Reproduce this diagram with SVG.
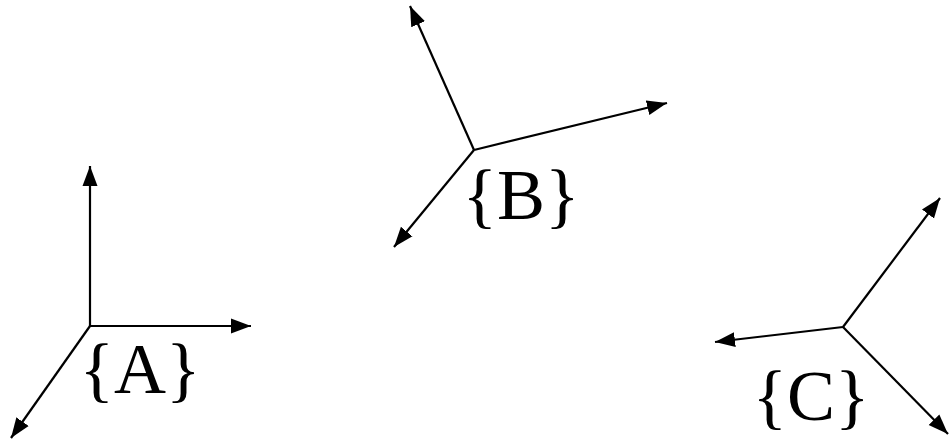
<svg xmlns="http://www.w3.org/2000/svg" width="949" height="440" viewBox="0 0 949 440">
<style>
.ax{stroke:#000;stroke-width:2.2;fill:none;marker-end:url(#ah)}
.lbl{font-family:"Liberation Serif","Times New Roman",serif;font-size:72px;fill:#000;text-anchor:middle}
</style>
<defs>
<marker id="ah" markerUnits="userSpaceOnUse" markerWidth="22" markerHeight="18" refX="20" refY="9" orient="auto" viewBox="0 0 22 18">
<path d="M0,1.5 L20,9 L0,16.5 z" fill="#000"/>
</marker>
</defs>
<rect width="949" height="440" fill="#fff"/>
<g id="connectors">
<line class="ax" x1="90" y1="326" x2="90" y2="166"/>
<line class="ax" x1="90" y1="326" x2="251" y2="326"/>
<line class="ax" x1="90" y1="326" x2="11" y2="438"/>
<line class="ax" x1="474" y1="150" x2="410" y2="6"/>
<line class="ax" x1="474" y1="150" x2="667" y2="103"/>
<line class="ax" x1="474" y1="150" x2="394" y2="247"/>
<line class="ax" x1="843" y1="327" x2="940" y2="198"/>
<line class="ax" x1="843" y1="327" x2="715" y2="342"/>
<line class="ax" x1="843" y1="327" x2="948" y2="434"/>
</g>
<g id="frameA"><text class="lbl" x="140" y="393">{A}</text></g>
<g id="frameB"><text class="lbl" x="521" y="219">{B}</text></g>
<g id="frameC"><text class="lbl" x="811" y="420">{C}</text></g>
</svg>
